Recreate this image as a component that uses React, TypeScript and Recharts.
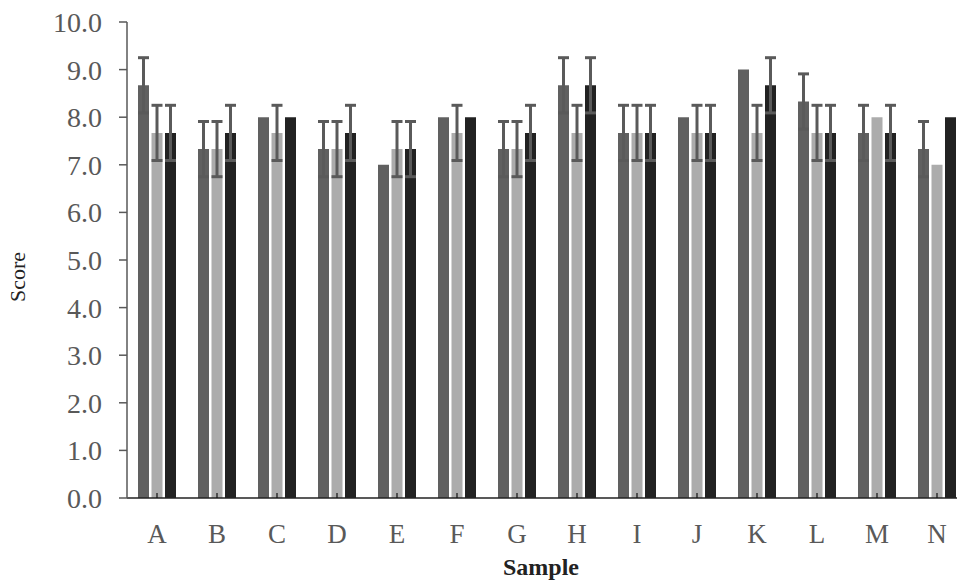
import React from "react";
import {
  BarChart,
  Bar,
  XAxis,
  YAxis,
  ErrorBar,
  Label,
} from "recharts";

const samples: string[] = ["A", "B", "C", "D", "E", "F", "G", "H", "I", "J", "K", "L", "M", "N"];
const scoreTicks: number[] = [0, 1, 2, 3, 4, 5, 6, 7, 8, 9, 10];

const series1: number[] = [8.67, 7.33, 8.0, 7.33, 7.0, 8.0, 7.33, 8.67, 7.67, 8.0, 9.0, 8.33, 7.67, 7.33];
const error1: number[] = [0.58, 0.58, 0, 0.58, 0, 0, 0.58, 0.58, 0.58, 0, 0, 0.58, 0.58, 0.58];
const series2: number[] = [7.67, 7.33, 7.67, 7.33, 7.33, 7.67, 7.33, 7.67, 7.67, 7.67, 7.67, 7.67, 8.0, 7.0];
const error2: number[] = [0.58, 0.58, 0.58, 0.58, 0.58, 0.58, 0.58, 0.58, 0.58, 0.58, 0.58, 0.58, 0, 0];
const series3: number[] = [7.67, 7.67, 8.0, 7.67, 7.33, 8.0, 7.67, 8.67, 7.67, 7.67, 8.67, 7.67, 7.67, 8.0];
const error3: number[] = [0.58, 0.58, 0, 0.58, 0.58, 0, 0.58, 0.58, 0.58, 0.58, 0.58, 0.58, 0.58, 0];

const data = samples.map((name, i) => ({
  name,
  s1: series1[i],
  e1: error1[i],
  s2: series2[i],
  e2: error2[i],
  s3: series3[i],
  e3: error3[i],
}));

const font = "'Liberation Serif', 'Times New Roman', serif";
const errColor = "#5a5a5a";

const SampleTick = (props: any) => {
  const { x, y, payload } = props;
  return (
    <g>
      <line x1={x} y1={y - 5} x2={x} y2={y} stroke="#111" strokeWidth={1.2} />
      <text
        x={x}
        y={y + 45}
        textAnchor="middle"
        fontFamily={font}
        fontSize={27}
        fill="#595959"
      >
        {payload.value}
      </text>
    </g>
  );
};

const App = () => {
  return (
    <div
      style={{
        position: "absolute",
        left: 0,
        top: 0,
        width: 957,
        height: 583,
        overflow: "hidden",
        background: "#fff",
      }}
    >
      <BarChart
        width={980}
        height={583}
        data={data}
        margin={{ top: 22, right: 13, left: 0, bottom: 0 }}
        barCategoryGap={11}
        barGap={2.5}
      >
        <XAxis
          dataKey="name"
          height={85}
          tickLine={false}
          tickSize={0}
          tickMargin={0}
          tick={<SampleTick />}
          axisLine={{ stroke: "#222", strokeWidth: 1.5 }}
          interval={0}
        >
          <Label
            content={(p: any) => {
              const vb = p.viewBox || {};
              return (
                <text
                  x={vb.x + vb.width / 2 - 6}
                  y={575}
                  textAnchor="middle"
                  fontFamily={font}
                  fontWeight="bold"
                  fontSize={24}
                  fill="#222"
                >
                  Sample
                </text>
              );
            }}
          />
        </XAxis>
        <YAxis
          width={127}
          domain={[0, 10]}
          ticks={scoreTicks}
          interval={0}
          tickFormatter={(v: number) => v.toFixed(1)}
          tickSize={8}
          tickMargin={17}
          tick={{ fontFamily: font, fontSize: 28, fill: "#595959" }}
          tickLine={{ stroke: "#595959", strokeWidth: 1.5 }}
          axisLine={{ stroke: "#595959", strokeWidth: 1.5 }}
        >
          <Label
            content={() => (
              <text
                x={0}
                y={0}
                transform="translate(25 277) rotate(-90)"
                textAnchor="middle"
                fontFamily={font}
                fontSize={22}
                fill="#222"
              >
                Score
              </text>
            )}
          />
        </YAxis>
        <Bar dataKey="s1" fill="#606060" isAnimationActive={false}>
          <ErrorBar dataKey="e1" width={5.5} stroke={errColor} strokeWidth={3} isAnimationActive={false} />
        </Bar>
        <Bar dataKey="s2" fill="#acacac" isAnimationActive={false}>
          <ErrorBar dataKey="e2" width={5.5} stroke={errColor} strokeWidth={3} isAnimationActive={false} />
        </Bar>
        <Bar dataKey="s3" fill="#222222" isAnimationActive={false}>
          <ErrorBar dataKey="e3" width={5.5} stroke={errColor} strokeWidth={3} isAnimationActive={false} />
        </Bar>
      </BarChart>
    </div>
  );
};

export default App;
